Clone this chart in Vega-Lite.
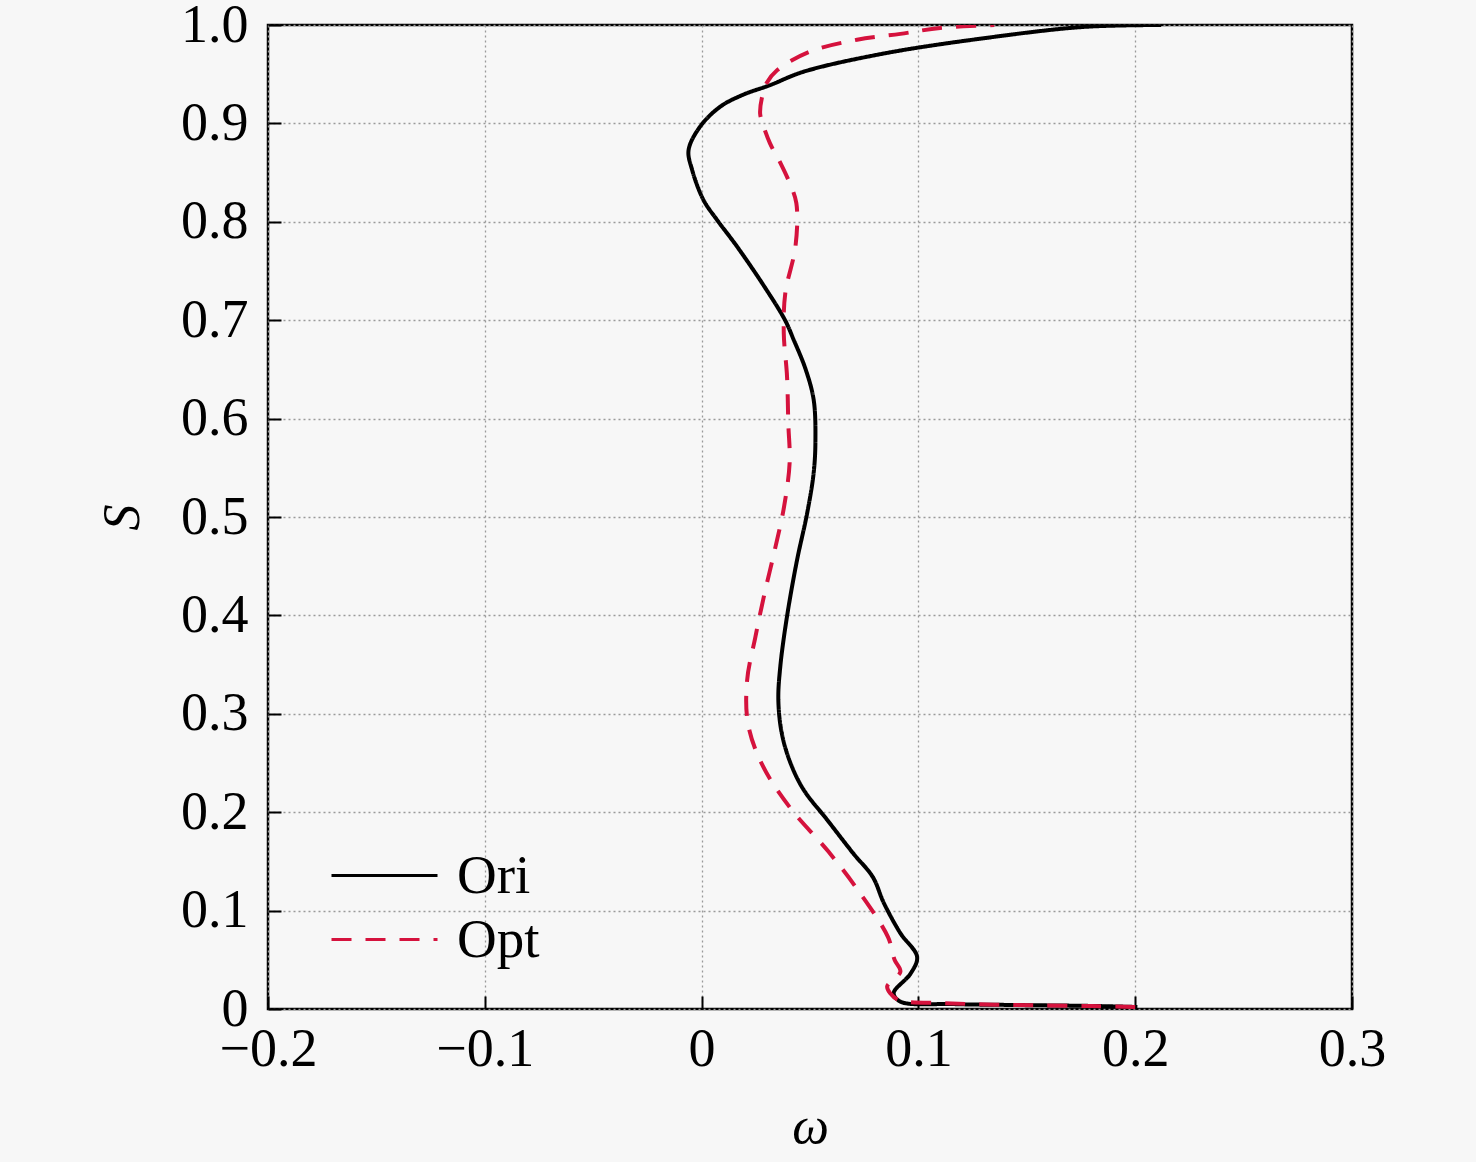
{
  "$schema": "https://vega.github.io/schema/vega-lite/v6.json",
  "autosize": "none",
  "width": 1084,
  "height": 984,
  "padding": {"left": 268, "top": 25, "right": 124, "bottom": 153},
  "background": "#f7f7f7",
  "config": {
    "view": {"stroke": "black", "strokeWidth": 2.5, "fill": null},
    "font": "Liberation Serif",
    "axis": {
      "domain": false,
      "labelFont": "Liberation Serif",
      "labelFontSize": 54,
      "labelColor": "black",
      "labelFlush": false,
      "tickColor": "black",
      "tickWidth": 2,
      "tickSize": -13,
      "gridColor": "#9a9a9a",
      "gridDash": [2, 3],
      "gridWidth": 1.3,
      "titleFont": "Liberation Serif",
      "titleFontStyle": "italic",
      "titleFontWeight": "normal",
      "titleFontSize": 52,
      "titleColor": "black"
    },
    "legend": {
      "title": null,
      "orient": "none",
      "symbolType": "stroke",
      "symbolSize": 11236,
      "symbolStrokeWidth": 3,
      "labelFont": "Liberation Serif",
      "labelFontSize": 55,
      "labelColor": "black",
      "labelOffset": 18
    }
  },
  "data": {
    "values": [
      {"case": "Ori", "S": 0.002, "w": 0.201},
      {"case": "Ori", "S": 0.003, "w": 0.183},
      {"case": "Ori", "S": 0.004, "w": 0.147},
      {"case": "Ori", "S": 0.005, "w": 0.116},
      {"case": "Ori", "S": 0.0075, "w": 0.0917},
      {"case": "Ori", "S": 0.016, "w": 0.0886},
      {"case": "Ori", "S": 0.036, "w": 0.0964},
      {"case": "Ori", "S": 0.053, "w": 0.0994},
      {"case": "Ori", "S": 0.077, "w": 0.0917},
      {"case": "Ori", "S": 0.108, "w": 0.084},
      {"case": "Ori", "S": 0.134, "w": 0.079},
      {"case": "Ori", "S": 0.158, "w": 0.07},
      {"case": "Ori", "S": 0.192, "w": 0.058},
      {"case": "Ori", "S": 0.223, "w": 0.047},
      {"case": "Ori", "S": 0.25, "w": 0.041},
      {"case": "Ori", "S": 0.28, "w": 0.037},
      {"case": "Ori", "S": 0.314, "w": 0.0354},
      {"case": "Ori", "S": 0.348, "w": 0.0363},
      {"case": "Ori", "S": 0.399, "w": 0.0394},
      {"case": "Ori", "S": 0.456, "w": 0.044},
      {"case": "Ori", "S": 0.504, "w": 0.0487},
      {"case": "Ori", "S": 0.545, "w": 0.0517},
      {"case": "Ori", "S": 0.578, "w": 0.0525},
      {"case": "Ori", "S": 0.619, "w": 0.0517},
      {"case": "Ori", "S": 0.65, "w": 0.048},
      {"case": "Ori", "S": 0.68, "w": 0.0425},
      {"case": "Ori", "S": 0.7, "w": 0.0385},
      {"case": "Ori", "S": 0.734, "w": 0.029},
      {"case": "Ori", "S": 0.775, "w": 0.0163},
      {"case": "Ori", "S": 0.802, "w": 0.0071},
      {"case": "Ori", "S": 0.822, "w": 0.0009},
      {"case": "Ori", "S": 0.853, "w": -0.0044},
      {"case": "Ori", "S": 0.873, "w": -0.006},
      {"case": "Ori", "S": 0.897, "w": -0.0006},
      {"case": "Ori", "S": 0.917, "w": 0.0086},
      {"case": "Ori", "S": 0.929, "w": 0.019},
      {"case": "Ori", "S": 0.939, "w": 0.0317},
      {"case": "Ori", "S": 0.9525, "w": 0.047},
      {"case": "Ori", "S": 0.971, "w": 0.084},
      {"case": "Ori", "S": 0.9865, "w": 0.13},
      {"case": "Ori", "S": 0.998, "w": 0.176},
      {"case": "Ori", "S": 1.0, "w": 0.212},
      {"case": "Opt", "S": 0.002, "w": 0.2},
      {"case": "Opt", "S": 0.003, "w": 0.18},
      {"case": "Opt", "S": 0.004, "w": 0.145},
      {"case": "Opt", "S": 0.006, "w": 0.112},
      {"case": "Opt", "S": 0.009, "w": 0.091},
      {"case": "Opt", "S": 0.016, "w": 0.087},
      {"case": "Opt", "S": 0.023, "w": 0.0856},
      {"case": "Opt", "S": 0.038, "w": 0.0917},
      {"case": "Opt", "S": 0.05, "w": 0.089},
      {"case": "Opt", "S": 0.073, "w": 0.086},
      {"case": "Opt", "S": 0.118, "w": 0.073},
      {"case": "Opt", "S": 0.16, "w": 0.0585},
      {"case": "Opt", "S": 0.204, "w": 0.041},
      {"case": "Opt", "S": 0.248, "w": 0.028},
      {"case": "Opt", "S": 0.29, "w": 0.0214},
      {"case": "Opt", "S": 0.334, "w": 0.021},
      {"case": "Opt", "S": 0.378, "w": 0.0248},
      {"case": "Opt", "S": 0.422, "w": 0.029},
      {"case": "Opt", "S": 0.466, "w": 0.0337},
      {"case": "Opt", "S": 0.51, "w": 0.038},
      {"case": "Opt", "S": 0.555, "w": 0.0406},
      {"case": "Opt", "S": 0.595, "w": 0.04},
      {"case": "Opt", "S": 0.643, "w": 0.0394},
      {"case": "Opt", "S": 0.687, "w": 0.0379},
      {"case": "Opt", "S": 0.7275, "w": 0.0386},
      {"case": "Opt", "S": 0.775, "w": 0.0433},
      {"case": "Opt", "S": 0.819, "w": 0.0437},
      {"case": "Opt", "S": 0.84, "w": 0.0405},
      {"case": "Opt", "S": 0.86, "w": 0.0363},
      {"case": "Opt", "S": 0.88, "w": 0.0315},
      {"case": "Opt", "S": 0.9017, "w": 0.0279},
      {"case": "Opt", "S": 0.91, "w": 0.027},
      {"case": "Opt", "S": 0.926, "w": 0.0278},
      {"case": "Opt", "S": 0.941, "w": 0.03},
      {"case": "Opt", "S": 0.954, "w": 0.0348},
      {"case": "Opt", "S": 0.973, "w": 0.05},
      {"case": "Opt", "S": 0.985, "w": 0.0717},
      {"case": "Opt", "S": 0.991, "w": 0.0917},
      {"case": "Opt", "S": 0.997, "w": 0.11},
      {"case": "Opt", "S": 1.0, "w": 0.135}
    ]
  },
  "mark": {"type": "line", "interpolate": "catmull-rom", "strokeWidth": 4, "clip": true},
  "encoding": {
    "x": {
      "field": "w",
      "type": "quantitative",
      "scale": {"domain": [-0.2, 0.3], "nice": false, "zero": false},
      "axis": {
        "title": "ω",
        "values": [-0.2, -0.1, 0, 0.1, 0.2, 0.3],
        "labelExpr": "datum.value == 0 ? '0' : format(datum.value, '.1f')",
        "labelPadding": 26,
        "titlePadding": 25
      }
    },
    "y": {
      "field": "S",
      "type": "quantitative",
      "scale": {"domain": [0, 1], "nice": false},
      "axis": {
        "title": "S",
        "values": [0, 0.1, 0.2, 0.3, 0.4, 0.5, 0.6, 0.7, 0.8, 0.9, 1.0],
        "labelExpr": "datum.value == 0 ? '0' : format(datum.value, '.1f')",
        "labelPadding": 33,
        "titlePadding": 31
      }
    },
    "order": {"field": "S", "type": "quantitative"},
    "color": {
      "field": "case",
      "type": "nominal",
      "scale": {"domain": ["Ori", "Opt"], "range": ["black", "#d5123d"]},
      "legend": {
        "values": ["Ori"],
        "legendX": 62,
        "legendY": 796
      }
    },
    "strokeDash": {
      "field": "case",
      "type": "nominal",
      "scale": {"domain": ["Opt", "Ori"], "range": [[20, 14], [1, 0]]},
      "legend": {
        "values": ["Opt"],
        "legendX": 62,
        "legendY": 860,
        "encode": {"symbols": {"update": {"stroke": {"value": "#d5123d"}}}}
      }
    }
  }
}
